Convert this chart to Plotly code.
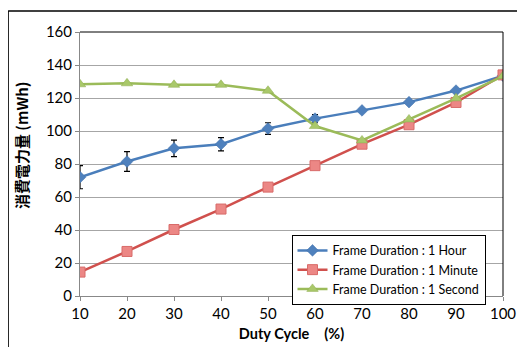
import plotly.graph_objects as go

duty = [10, 20, 30, 40, 50, 60, 70, 80, 90, 100]
hour = [72, 81.5, 89.5, 92, 101.5, 107.5, 112.5, 117.5, 124.5, 133.5]
hour_err = [7, 6, 5, 4, 3.5, 2.5, 1, 1, 1, 1]
minute = [14.5, 27, 40.3, 52.7, 66, 79, 92, 103.8, 117.3, 134]
second = [128.3, 128.9, 128, 128, 124.4, 103, 94.3, 107, 119.8, 133.3]
yticks = [0, 20, 40, 60, 80, 100, 120, 140, 160]

font = "Lato, Open Sans, sans-serif"
fig = go.Figure()
fig.add_trace(go.Scatter(
    x=duty, y=hour, mode="lines+markers", name="Frame Duration : 1 Hour",
    line=dict(color="#4a7ebb", width=2.5),
    marker=dict(symbol="diamond", size=9, color="#4f81bd", line=dict(color="#3f6fa8", width=0.5)),
    error_y=dict(type="data", array=hour_err, color="black", thickness=1.2, width=3),
))
fig.add_trace(go.Scatter(
    x=duty, y=minute, mode="lines+markers", name="Frame Duration : 1 Minute",
    line=dict(color="#d0504d", width=2.5),
    marker=dict(symbol="square", size=10, color="#ec8785", line=dict(color="#d86b69", width=1)),
))
fig.add_trace(go.Scatter(
    x=duty, y=second, mode="lines+markers", name="Frame Duration : 1 Second",
    line=dict(color="#9bbb59", width=2.5),
    marker=dict(symbol="triangle-up", size=10, color="#a9c86a", line=dict(color="#8caa4e", width=0.5)),
))

fig.update_layout(
    width=525, height=347,
    margin=dict(l=72, r=30, t=24, b=59),
    paper_bgcolor="white", plot_bgcolor="white",
    font=dict(family=font, size=15, color="black"),
    showlegend=True,
    legend=dict(x=0.50, y=0.232, xanchor="left", yanchor="top",
                bgcolor="white", bordercolor="black", borderwidth=1,
                font=dict(size=12.5, family=font), itemwidth=30,
                tracegroupgap=0, traceorder="normal"),
    xaxis=dict(range=[10, 100], tickvals=duty, showgrid=False, showline=True,
               linecolor="#888888", linewidth=1, ticks="outside", ticklen=4,
               tickcolor="#888888", zeroline=False, automargin=False,
               title=dict(text="<b>Duty Cycle　(%)</b>", font=dict(size=14.5, family=font), standoff=7)),
    yaxis=dict(range=[0, 160], tickvals=yticks, showgrid=True, gridcolor="#a6a6a6",
               gridwidth=1, showline=True, linecolor="#888888", linewidth=1,
               ticks="outside", ticklen=4, tickcolor="#888888", zeroline=False, automargin=False),
    annotations=[dict(text="<b>消費電力量 (mWh)</b>", textangle=-90, xref="paper", yref="paper",
                      x=-0.137, y=0.572, xanchor="center", yanchor="middle", showarrow=False,
                      font=dict(size=15, family="Noto Sans CJK JP", color="black"))],
)
# plot area top/right border
fig.add_shape(type="line", xref="paper", yref="paper", x0=0, x1=1, y0=1, y1=1,
              line=dict(color="black", width=1))
fig.add_shape(type="line", xref="paper", yref="paper", x0=1, x1=1, y0=0, y1=1,
              line=dict(color="black", width=1))
# outer chart frame (left and top)
fig.add_shape(type="line", xref="paper", yref="paper", x0=-0.170, x1=1.2, y0=1.0795, y1=1.0795,
              line=dict(color="black", width=1.5))
fig.add_shape(type="line", xref="paper", yref="paper", x0=-0.170, x1=-0.170, y0=1.0795, y1=-0.3,
              line=dict(color="black", width=1.5))

fig.write_html("out.html")
